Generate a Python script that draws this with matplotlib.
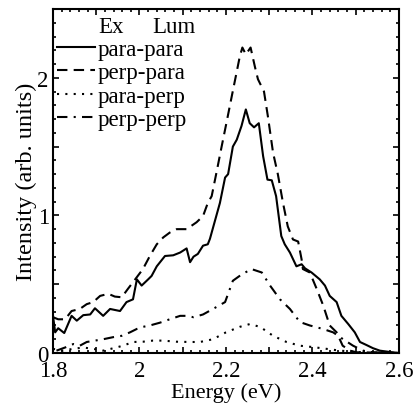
import matplotlib
matplotlib.use("Agg")
import matplotlib.pyplot as plt
from matplotlib.ticker import MultipleLocator, FuncFormatter

plt.rcParams['font.family'] = ['Liberation Serif', 'DejaVu Serif']

# para-para (solid)
e_pp = [1.800, 1.805, 1.812, 1.826, 1.843, 1.855, 1.870, 1.886, 1.897, 1.916,
        1.932, 1.955, 1.970, 1.985, 1.994, 2.005, 2.020, 2.028, 2.040, 2.059,
        2.078, 2.094, 2.109, 2.117, 2.125, 2.135, 2.147, 2.158, 2.163, 2.186,
        2.198, 2.205, 2.216, 2.225, 2.236, 2.246, 2.255, 2.265, 2.276, 2.286,
        2.296, 2.306, 2.316, 2.328, 2.336, 2.348, 2.363, 2.375, 2.383, 2.398,
        2.417, 2.429, 2.440, 2.456, 2.467, 2.483, 2.498, 2.510, 2.525, 2.540,
        2.556, 2.580, 2.600]
i_pp = [0.27, 0.15, 0.18, 0.145, 0.27, 0.235, 0.275, 0.28, 0.325, 0.27,
        0.32, 0.305, 0.37, 0.39, 0.535, 0.49, 0.535, 0.56, 0.63, 0.705,
        0.71, 0.73, 0.76, 0.66, 0.70, 0.72, 0.78, 0.79, 0.83, 1.09,
        1.275, 1.30, 1.50, 1.55, 1.65, 1.77, 1.67, 1.64, 1.67, 1.43,
        1.26, 1.255, 1.14, 0.85, 0.79, 0.73, 0.63, 0.645, 0.615, 0.585,
        0.535, 0.49, 0.415, 0.37, 0.27, 0.21, 0.15, 0.08, 0.058, 0.035,
        0.017, 0.007, 0.0]

# perp-para (dashed)
e_ep = [1.800, 1.812, 1.828, 1.843, 1.862, 1.878, 1.893, 1.909, 1.928, 1.943,
        1.959, 1.973, 1.990, 2.008, 2.024, 2.040, 2.055, 2.070, 2.086, 2.109,
        2.132, 2.147, 2.158, 2.167, 2.178, 2.190, 2.201, 2.215, 2.225, 2.232,
        2.238, 2.246, 2.257, 2.267, 2.274, 2.288, 2.297, 2.309, 2.320, 2.332,
        2.343, 2.355, 2.367, 2.375, 2.378, 2.394, 2.410, 2.425, 2.440, 2.456,
        2.470, 2.487, 2.502, 2.600]
i_ep = [0.26, 0.245, 0.245, 0.305, 0.32, 0.355, 0.37, 0.415, 0.43, 0.41,
        0.405, 0.465, 0.535, 0.61, 0.705, 0.79, 0.84, 0.875, 0.90, 0.90,
        0.95, 0.995, 1.09, 1.14, 1.31, 1.50, 1.67, 1.89, 2.045, 2.155,
        2.22, 2.17, 2.22, 2.08, 1.99, 1.90, 1.72, 1.455, 1.30, 1.09,
        0.92, 0.825, 0.81, 0.68, 0.61, 0.585, 0.465, 0.345, 0.20, 0.15,
        0.053, 0.017, 0.005, 0.0]

# para-perp (dotted)
e_pe = [1.800, 1.823, 1.846, 1.870, 1.893, 1.916, 1.940, 1.962, 1.985, 2.008,
        2.031, 2.054, 2.086, 2.117, 2.140, 2.170, 2.200, 2.232, 2.255, 2.279,
        2.309, 2.340, 2.371, 2.401, 2.433, 2.464, 2.494, 2.530, 2.600]
i_pe = [0.03, 0.017, 0.03, 0.04, 0.03, 0.017, 0.035, 0.053, 0.08, 0.082,
        0.09, 0.09, 0.082, 0.08, 0.08, 0.10, 0.15, 0.19, 0.21, 0.19,
        0.125, 0.08, 0.053, 0.043, 0.03, 0.017, 0.01, 0.0, 0.0]

# perp-perp (dash-dot)
e_ee = [1.808, 1.828, 1.847, 1.862, 1.878, 1.897, 1.916, 1.939, 1.959, 1.978,
        1.994, 2.008, 2.024, 2.047, 2.070, 2.094, 2.109, 2.125, 2.147, 2.170,
        2.198, 2.216, 2.236, 2.259, 2.283, 2.302, 2.325, 2.348, 2.371, 2.394,
        2.424, 2.448, 2.471, 2.494, 2.517, 2.540, 2.600]
i_ee = [0.017, 0.04, 0.065, 0.053, 0.08, 0.09, 0.10, 0.115, 0.125, 0.15,
        0.175, 0.19, 0.20, 0.22, 0.245, 0.27, 0.27, 0.26, 0.28, 0.32,
        0.37, 0.525, 0.57, 0.61, 0.585, 0.49, 0.39, 0.32, 0.225, 0.20,
        0.175, 0.15, 0.10, 0.053, 0.017, 0.005, 0.0]

fig = plt.figure(figsize=(4.19, 4.10), dpi=100)
ax = fig.add_axes([0.1265, 0.1366, 0.8255, 0.839])

lw = 1.5
ax.plot(e_pp, i_pp, color='black', lw=lw, ls='-', label='para-para')
ax.plot(e_ep, i_ep, color='black', lw=lw, ls=(0, (5, 3)), label='perp-para')
ax.plot(e_pe, i_pe, color='black', lw=lw, ls=(0, (1, 3)), label='para-perp')
ax.plot(e_ee, i_ee, color='black', lw=lw, ls=(0, (5, 3, 1, 3)), label='perp-perp')

ax.set_xlim(1.8, 2.6)
ax.set_ylim(0, 2.5)

ax.xaxis.set_major_locator(MultipleLocator(0.1))
ax.xaxis.set_minor_locator(MultipleLocator(0.02))
ax.yaxis.set_major_locator(MultipleLocator(0.5))
ax.yaxis.set_minor_locator(MultipleLocator(0.1))


def xfmt(v, pos):
    k = round(v * 10)
    if k % 2 == 0:
        return '%g' % (k / 10)
    return ''


def yfmt(v, pos):
    if abs(v - round(v)) < 1e-6:
        return '%d' % round(v)
    return ''


ax.xaxis.set_major_formatter(FuncFormatter(xfmt))
ax.yaxis.set_major_formatter(FuncFormatter(yfmt))
ax.tick_params(which='both', direction='in', top=True, right=True, width=1.2,
               labelsize=16.5)
ax.tick_params(axis='x', pad=5)
ax.tick_params(axis='y', pad=3)
ax.tick_params(which='major', length=4)
ax.tick_params(which='minor', length=2.5)
for lab in ax.get_yticklabels():
    lab.set_verticalalignment('center_baseline')
for s in ax.spines.values():
    s.set_linewidth(1.5)

ax.set_xlabel('Energy (eV)', fontsize=16, labelpad=1)
ax.set_ylabel('Intensity (arb. units)', fontsize=17.5, labelpad=0)

# legend header (Ex = excitation, Lum = luminescence polarisation)
ax.text(0.130, 0.933, 'Ex', transform=ax.transAxes, fontsize=16.5,
        ha='left', va='baseline')
ax.text(0.286, 0.933, 'Lum', transform=ax.transAxes, fontsize=16.5,
        ha='left', va='baseline')
ax.legend(loc='upper left', bbox_to_anchor=(0.0116, 0.912), frameon=False,
          fontsize=16.5, handlelength=1.66, handletextpad=0.13, borderpad=0,
          borderaxespad=0, labelspacing=0.09)

fig.savefig('out.png', dpi=100)
